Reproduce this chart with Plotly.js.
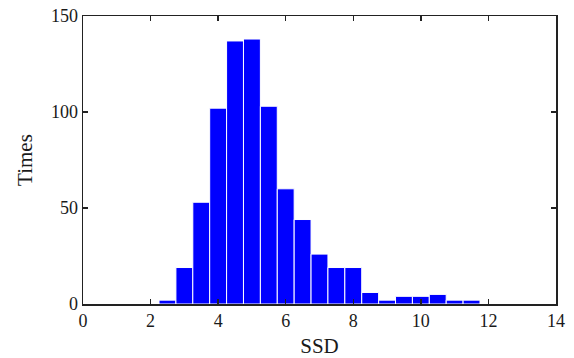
<!DOCTYPE html>
<html>
<head>
<meta charset="utf-8">
<script src="https://cdn.plot.ly/plotly-3.0.1.min.js"></script>
<style>html,body{margin:0;padding:0;background:#fff}#chart{width:574px;height:358px}</style>
</head>
<body>
<div id="chart"></div>
<script>
const binCenters = [2.5, 3.0, 3.5, 4.0, 4.5, 5.0, 5.5, 6.0, 6.5, 7.0, 7.5, 8.0, 8.5, 9.0, 9.5, 10.0, 10.5, 11.0, 11.5];
const counts = [2, 19, 53, 102, 137, 138, 103, 60, 44, 26, 19, 19, 6, 2, 4, 4, 5, 2, 2];
const xTicks = [0, 2, 4, 6, 8, 10, 12, 14];
const yTicks = [0, 50, 100, 150];

const fam = '"Liberation Serif", "Times New Roman", serif';
const font = {family: fam, size: 18, color: '#1a1a1a'};
const titleFont = {family: fam, size: 21, color: '#1a1a1a'};
const axisCommon = {
  showline: true, linecolor: '#222', linewidth: 1.5, mirror: 'ticks',
  ticks: 'inside', ticklen: 5, tickwidth: 1.5, tickcolor: '#222',
  showgrid: false, zeroline: false, tickfont: font
};

Plotly.newPlot('chart', [{
  type: 'bar', x: binCenters, y: counts,
  marker: {color: '#0000ff', line: {color: '#ffffff', width: 1}},
  width: 0.5
}], {
  width: 574, height: 358,
  margin: {l: 83, r: 18, t: 16, b: 54},
  paper_bgcolor: '#fff', plot_bgcolor: '#fff',
  font: font,
  showlegend: false,
  bargap: 0,
  xaxis: Object.assign({}, axisCommon, {
    range: [0, 14], tickmode: 'array', tickvals: xTicks, ticktext: xTicks.map(String),
    title: {text: 'SSD', font: titleFont, standoff: 9}
  }),
  yaxis: Object.assign({}, axisCommon, {
    range: [0, 150], tickmode: 'array', tickvals: yTicks, ticktext: yTicks.map(String),
    title: {text: 'Times', font: titleFont, standoff: 12}
  })
}, {staticPlot: true, displayModeBar: false});
</script>
</body>
</html>
